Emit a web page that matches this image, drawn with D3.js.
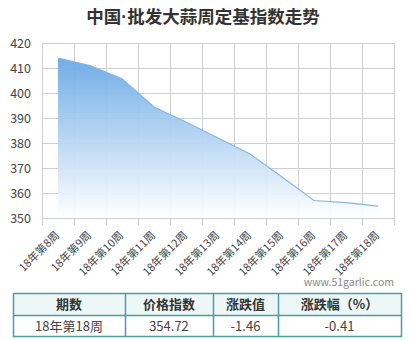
<!DOCTYPE html>
<html>
<head>
<meta charset="utf-8">
<script src="https://cdn.jsdelivr.net/npm/d3@7"></script>
<style>
  body { margin: 0; background: #fff; }
  text { font-family: "Noto Sans CJK SC", "Noto Sans", sans-serif; }
</style>
</head>
<body>
<div id="chart"></div>
<script>
// chart data
var weeks = ["18年第8周", "18年第9周", "18年第10周", "18年第11周", "18年第12周", "18年第13周",
             "18年第14周", "18年第15周", "18年第16周", "18年第17周", "18年第18周"];
var index_values = [414.0, 411.0, 405.7, 394.4, 388.4, 382.0, 375.6, 366.4, 357.0, 356.18, 354.72];
var y_ticks = [350, 360, 370, 380, 390, 400, 410, 420];

// table data
var table_head = ["期数", "价格指数", "涨跌值", "涨跌幅（%）"];
var table_row = ["18年第18周", "354.72", "-1.46", "-0.41"];

var W = 414, H = 340;
var margin = {top: 43, right: 20, bottom: 122, left: 42},
    width = 394 - margin.left,
    height = 218 - margin.top;

var svg = d3.select("#chart")
  .append("svg")
    .attr("width", W)
    .attr("height", H);

// title (the middle dot drawn in a latin font so it stays narrow)
var title = svg.append("text")
  .attr("x", 203)
  .attr("y", 23)
  .attr("text-anchor", "middle")
  .style("font-size", "17.5px")
  .style("font-weight", "bold")
  .attr("fill", "#333");
title.append("tspan").text("中国");
title.append("tspan").style("font-family", "\"Liberation Sans\", sans-serif").text("·");
title.append("tspan").text("批发大蒜周定基指数走势");

var g = svg.append("g")
  .attr("transform", "translate(" + margin.left + "," + margin.top + ")");

var x = d3.scaleBand()
  .domain(weeks)
  .range([0, width]);

var y = d3.scaleLinear()
  .domain([350, 420])
  .range([height, 0]);

// gradient for the area
var defs = svg.append("defs");
var grad = defs.append("linearGradient")
  .attr("id", "areaGrad")
  .attr("x1", 0).attr("y1", 0).attr("x2", 0).attr("y2", 1);
grad.append("stop").attr("offset", "0%").attr("stop-color", "#6aa9e6").attr("stop-opacity", 1);
grad.append("stop").attr("offset", "100%").attr("stop-color", "#ffffff").attr("stop-opacity", 1);

// horizontal grid
g.append("g")
  .selectAll("line")
  .data(y_ticks)
  .enter()
  .append("line")
    .attr("x1", 0)
    .attr("x2", width)
    .attr("y1", function(d) { return Math.round(y(d)) + 0.5; })
    .attr("y2", function(d) { return Math.round(y(d)) + 0.5; })
    .attr("stroke", "#cfcfcf");

// vertical grid (extends below the plot as ticks)
var xs = weeks.map(function(d) { return x(d); }).concat([width]);
g.append("g")
  .selectAll("line")
  .data(xs)
  .enter()
  .append("line")
    .attr("x1", function(d) { return Math.round(d) + 0.5; })
    .attr("x2", function(d) { return Math.round(d) + 0.5; })
    .attr("y1", 0)
    .attr("y2", height + 7)
    .attr("stroke", "#cfcfcf");

// area + line
var pts = weeks.map(function(d, i) { return {w: d, v: index_values[i]}; });
var cx = function(d) { return x(d.w) + x.bandwidth() / 2; };

g.append("path")
  .datum(pts)
  .attr("fill", "url(#areaGrad)")
  .attr("fill-opacity", 0.95)
  .attr("d", d3.area()
    .x(cx)
    .y0(y(350))
    .y1(function(d) { return y(d.v); }));

g.append("path")
  .datum(pts)
  .attr("fill", "none")
  .attr("stroke", "#86b6e2")
  .attr("stroke-width", 1.2)
  .attr("d", d3.line()
    .x(cx)
    .y(function(d) { return y(d.v); }));

// y axis labels
g.append("g")
  .call(d3.axisLeft(y).tickValues(y_ticks).tickSize(0).tickPadding(11))
  .call(function(a) { a.select(".domain").remove(); })
  .selectAll("text")
    .attr("fill", "#444")
    .style("font-size", "12.5px")
    .style("font-family", "\"Noto Sans CJK SC\", sans-serif");

// x axis labels
g.append("g")
  .attr("transform", "translate(0," + height + ")")
  .call(d3.axisBottom(x).tickSize(0).tickPadding(0))
  .call(function(a) { a.select(".domain").remove(); })
  .selectAll("text")
    .attr("fill", "#444")
    .style("font-size", "11px")
    .style("font-family", "\"Noto Sans CJK SC\", sans-serif")
    .attr("dy", null)
    .attr("y", 0)
    .attr("transform", "translate(2,18)rotate(-45)")
    .style("text-anchor", "end");

// watermark
svg.append("text")
  .attr("x", 394)
  .attr("y", 286)
  .attr("text-anchor", "end")
  .attr("fill", "#888")
  .style("font-size", "10.5px")
  .text("www.51garlic.com");

// table
var colX = [13, 125, 213, 278, 401];
var rowY = [293, 315, 336];
var tbl = svg.append("g");

tbl.append("rect")
  .attr("x", colX[0] + 0.5)
  .attr("y", rowY[0] + 0.5)
  .attr("width", colX[4] - colX[0])
  .attr("height", rowY[1] - rowY[0])
  .attr("fill", "#eef7f7");

tbl.selectAll(".hline")
  .data(rowY)
  .enter()
  .append("line")
    .attr("x1", colX[0])
    .attr("x2", colX[4] + 1)
    .attr("y1", function(d) { return d + 0.5; })
    .attr("y2", function(d) { return d + 0.5; })
    .attr("stroke", "#4a9e9e")
    .attr("stroke-width", 1.5);

tbl.selectAll(".vline")
  .data(colX)
  .enter()
  .append("line")
    .attr("x1", function(d) { return d + 0.5; })
    .attr("x2", function(d) { return d + 0.5; })
    .attr("y1", rowY[0])
    .attr("y2", rowY[2] + 1)
    .attr("stroke", "#4a9e9e")
    .attr("stroke-width", 1.5);

tbl.selectAll(".head")
  .data(table_head)
  .enter()
  .append("text")
    .attr("x", function(d, i) { return (colX[i] + colX[i + 1]) / 2; })
    .attr("y", rowY[0] + 16)
    .attr("text-anchor", "middle")
    .attr("fill", "#333")
    .style("font-size", "13px")
    .style("font-weight", "bold")
    .text(function(d) { return d; });

tbl.selectAll(".cell")
  .data(table_row)
  .enter()
  .append("text")
    .attr("x", function(d, i) { return (colX[i] + colX[i + 1]) / 2; })
    .attr("y", rowY[1] + 16)
    .attr("text-anchor", "middle")
    .attr("fill", "#444")
    .style("font-size", "13px")
    .text(function(d) { return d; });
</script>
</body>
</html>
